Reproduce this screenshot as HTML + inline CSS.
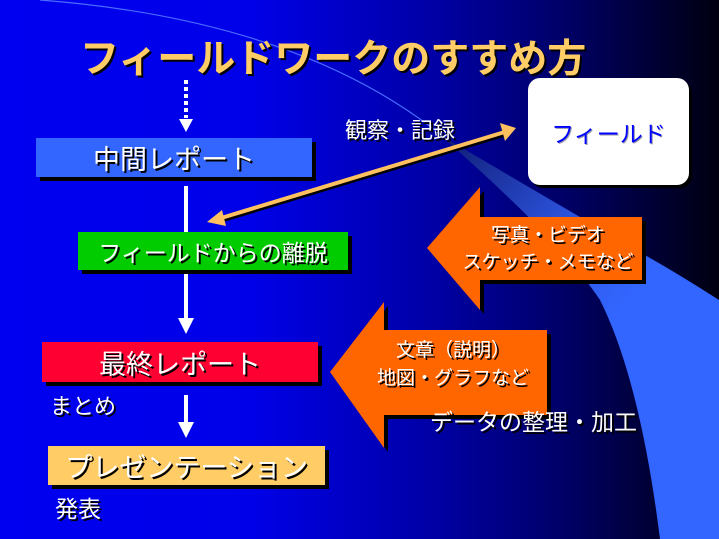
<!DOCTYPE html>
<html><head><meta charset="utf-8"><style>
html,body{margin:0;padding:0}
body{width:719px;height:539px;overflow:hidden;position:relative;font-family:"Liberation Sans","Noto Sans CJK JP",sans-serif;
background:linear-gradient(90deg,#0000f0 0%,#0000e8 35%,#0000a0 62%,#000060 80%,#000010 100%);}
.t{position:absolute;color:#fff;white-space:nowrap;text-shadow:2px 2px 0 #000}
.box{position:absolute;box-shadow:4px 4px 0 #000;display:flex;align-items:center;justify-content:center;color:#fff;text-shadow:2px 2px 0 #000}
</style></head><body>
<svg width="719" height="539" style="position:absolute;left:0;top:0">
<defs>
<linearGradient id="bg" x1="440" y1="135" x2="719" y2="360" gradientUnits="userSpaceOnUse"><stop offset="0" stop-color="#101a70"/><stop offset="0.4" stop-color="#2a50d8"/><stop offset="0.7" stop-color="#3366ff"/><stop offset="1" stop-color="#3366ff"/></linearGradient>
</defs>
<path d="M40,0 Q300,20 445,138" stroke="#4a6cff" stroke-width="1.2" fill="none"/>
<path d="M440,135 Q560,240 600,300 Q640,380 660,539 L719,539 L719,300 Q680,275 650,258 Z" fill="url(#bg)"/>
<line x1="186" y1="80" x2="186" y2="118" stroke="#fff" stroke-width="4" stroke-dasharray="4,3"/>
<polygon points="179,119 193,119 186,132" fill="#fff"/>
<line x1="186" y1="186" x2="186" y2="320" stroke="#fff" stroke-width="4"/>
<polygon points="178,318 194,318 186,334" fill="#fff"/>
<line x1="186" y1="395" x2="186" y2="424" stroke="#fff" stroke-width="4"/>
<polygon points="178,422 194,422 186,438" fill="#fff"/>
<line x1="218" y1="219" x2="508" y2="131" stroke="#000" stroke-width="4" transform="translate(2,2)"/>
<line x1="218" y1="219" x2="508" y2="131" stroke="#ffc060" stroke-width="4"/>
<polygon points="207,222 222,210 226,226" fill="#ffc060"/>
<polygon points="516,128 500,123 505,141" fill="#ffc060"/>
<polygon points="431,252 484,191 484,221 646,221 646,284 484,284 484,314" fill="#000"/>
<polygon points="427,248 480,187 480,217 642,217 642,280 480,280 480,310" fill="#ff6600"/>
<polygon points="334,376 388,306 388,334 551,334 551,419 388,419 388,452" fill="#000"/>
<polygon points="330,372 384,302 384,330 547,330 547,415 384,415 384,448" fill="#ff6600"/>
</svg>
<div class="t" style="left:80px;top:28px;font-size:39px;font-weight:bold;color:#ffcc66;letter-spacing:0px">フィールドワークのすすめ方</div>
<div class="box" style="left:36px;top:138px;width:276px;height:39px;background:#3366ff;font-size:27px">中間レポート</div>
<div class="box" style="left:78px;top:232px;width:270px;height:38px;background:#00cc00;font-size:23px">フィールドからの離脱</div>
<div class="box" style="left:42px;top:342px;width:276px;height:40px;background:#ff0033;font-size:27px">最終レポート</div>
<div class="box" style="left:48px;top:446px;width:277px;height:39px;background:#ffcc66;font-size:27px">プレゼンテーション</div>
<div class="t" style="left:50px;top:389px;font-size:22px">まとめ</div>
<div class="t" style="left:55px;top:490px;font-size:23px">発表</div>
<div style="position:absolute;left:528px;top:78px;width:161px;height:107px;background:#fff;border-radius:12px;box-shadow:3px 3px 0 #000;display:flex;align-items:center;justify-content:center;color:#0000ff;font-size:23px;text-shadow:1px 1px 0 #99a">フィールド</div>
<div class="t" style="left:345px;top:113px;font-size:22px">観察・記録</div>
<div class="t" style="left:448px;top:222px;width:200px;text-align:center;font-size:19px;line-height:27px">写真・ビデオ<br>スケッチ・メモなど</div>
<div class="t" style="left:358px;top:337px;width:190px;text-align:center;font-size:19px;line-height:28px">文章（説明）<br>地図・グラフなど</div>
<div class="t" style="left:430px;top:403px;font-size:23px">データの整理・加工</div>
</body></html>
